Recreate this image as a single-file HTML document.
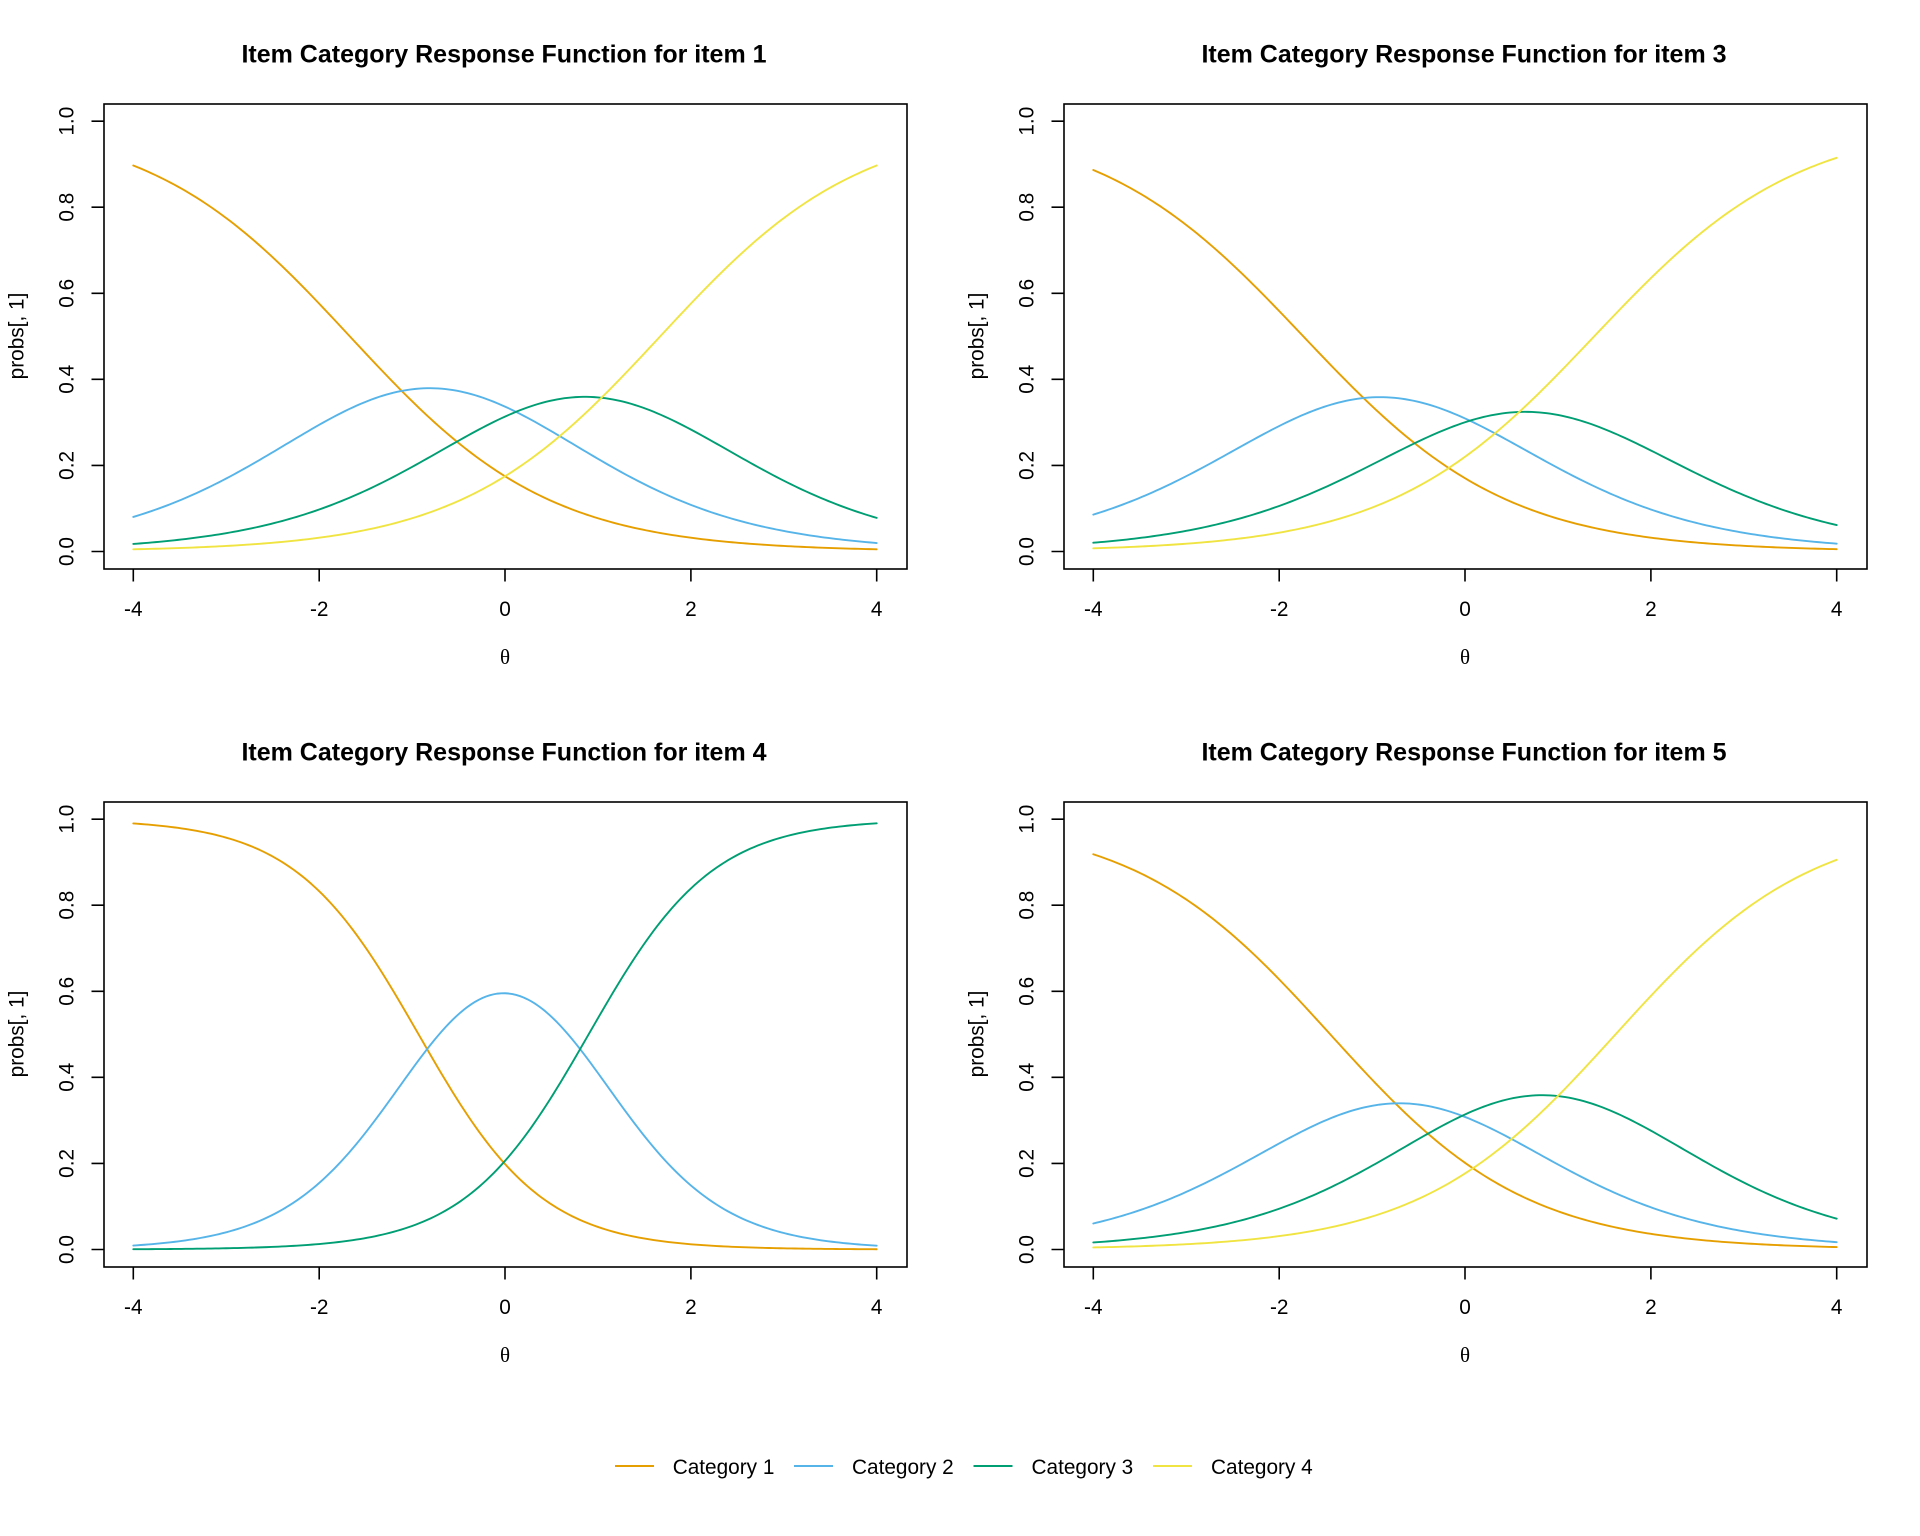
<!DOCTYPE html>
<html>
<head>
<meta charset="utf-8">
<style>
  html,body{margin:0;padding:0;background:#fff;}
  svg{display:block;}
  text{font-family:"Liberation Sans",Arial,sans-serif;fill:#000;}
  .tk{font-size:20.8px;}
  .ttl{font-size:25px;font-weight:bold;}
  .th{font-family:"Liberation Serif","DejaVu Serif",serif;font-size:21px;}
  .ax{stroke:#000;stroke-width:1.6;fill:none;}
  .cv{fill:none;stroke-width:1.9;stroke-linejoin:round;stroke-linecap:round;}
</style>
</head>
<body>
<svg id="s" width="1920" height="1536" viewBox="0 0 1920 1536" xmlns="http://www.w3.org/2000/svg">
<rect x="0" y="0" width="1920" height="1536" fill="#fff"/>

<!-- Panel 1 -->
<g transform="translate(0,0)">
  <text class="ttl" x="504" y="62.5" text-anchor="middle">Item Category Response Function for item 1</text>
  <rect class="ax" x="104" y="104" width="803" height="465"/>
  <path class="ax" d="M133.3 569V581.5M319.2 569V581.5M505 569V581.5M690.9 569V581.5M876.7 569V581.5"/>
  <path class="ax" d="M104 551.5H91.5M104 465.4H91.5M104 379.3H91.5M104 293.3H91.5M104 207.2H91.5M104 121.2H91.5"/>
  <text class="tk" x="133.3" y="616" text-anchor="middle">-4</text>
  <text class="tk" x="319.2" y="616" text-anchor="middle">-2</text>
  <text class="tk" x="505" y="616" text-anchor="middle">0</text>
  <text class="tk" x="690.9" y="616" text-anchor="middle">2</text>
  <text class="tk" x="876.7" y="616" text-anchor="middle">4</text>
  <text class="tk" transform="translate(73.5,551.5) rotate(-90)" text-anchor="middle">0.0</text>
  <text class="tk" transform="translate(73.5,465.4) rotate(-90)" text-anchor="middle">0.2</text>
  <text class="tk" transform="translate(73.5,379.3) rotate(-90)" text-anchor="middle">0.4</text>
  <text class="tk" transform="translate(73.5,293.3) rotate(-90)" text-anchor="middle">0.6</text>
  <text class="tk" transform="translate(73.5,207.2) rotate(-90)" text-anchor="middle">0.8</text>
  <text class="tk" transform="translate(73.5,121.2) rotate(-90)" text-anchor="middle">1.0</text>
  <text class="tk" transform="translate(23.5,336) rotate(-90)" text-anchor="middle">probs[, 1]</text>
  <text class="th" x="505" y="664" text-anchor="middle">θ</text>
  <g id="p0"></g>
</g>

<!-- Panel 2 -->
<g transform="translate(960,0)">
  <text class="ttl" x="504" y="62.5" text-anchor="middle">Item Category Response Function for item 3</text>
  <rect class="ax" x="104" y="104" width="803" height="465"/>
  <path class="ax" d="M133.3 569V581.5M319.2 569V581.5M505 569V581.5M690.9 569V581.5M876.7 569V581.5"/>
  <path class="ax" d="M104 551.5H91.5M104 465.4H91.5M104 379.3H91.5M104 293.3H91.5M104 207.2H91.5M104 121.2H91.5"/>
  <text class="tk" x="133.3" y="616" text-anchor="middle">-4</text>
  <text class="tk" x="319.2" y="616" text-anchor="middle">-2</text>
  <text class="tk" x="505" y="616" text-anchor="middle">0</text>
  <text class="tk" x="690.9" y="616" text-anchor="middle">2</text>
  <text class="tk" x="876.7" y="616" text-anchor="middle">4</text>
  <text class="tk" transform="translate(73.5,551.5) rotate(-90)" text-anchor="middle">0.0</text>
  <text class="tk" transform="translate(73.5,465.4) rotate(-90)" text-anchor="middle">0.2</text>
  <text class="tk" transform="translate(73.5,379.3) rotate(-90)" text-anchor="middle">0.4</text>
  <text class="tk" transform="translate(73.5,293.3) rotate(-90)" text-anchor="middle">0.6</text>
  <text class="tk" transform="translate(73.5,207.2) rotate(-90)" text-anchor="middle">0.8</text>
  <text class="tk" transform="translate(73.5,121.2) rotate(-90)" text-anchor="middle">1.0</text>
  <text class="tk" transform="translate(23.5,336) rotate(-90)" text-anchor="middle">probs[, 1]</text>
  <text class="th" x="505" y="664" text-anchor="middle">θ</text>
  <g id="p1"></g>
</g>

<!-- Panel 3 -->
<g transform="translate(0,698)">
  <text class="ttl" x="504" y="62.5" text-anchor="middle">Item Category Response Function for item 4</text>
  <rect class="ax" x="104" y="104" width="803" height="465"/>
  <path class="ax" d="M133.3 569V581.5M319.2 569V581.5M505 569V581.5M690.9 569V581.5M876.7 569V581.5"/>
  <path class="ax" d="M104 551.5H91.5M104 465.4H91.5M104 379.3H91.5M104 293.3H91.5M104 207.2H91.5M104 121.2H91.5"/>
  <text class="tk" x="133.3" y="616" text-anchor="middle">-4</text>
  <text class="tk" x="319.2" y="616" text-anchor="middle">-2</text>
  <text class="tk" x="505" y="616" text-anchor="middle">0</text>
  <text class="tk" x="690.9" y="616" text-anchor="middle">2</text>
  <text class="tk" x="876.7" y="616" text-anchor="middle">4</text>
  <text class="tk" transform="translate(73.5,551.5) rotate(-90)" text-anchor="middle">0.0</text>
  <text class="tk" transform="translate(73.5,465.4) rotate(-90)" text-anchor="middle">0.2</text>
  <text class="tk" transform="translate(73.5,379.3) rotate(-90)" text-anchor="middle">0.4</text>
  <text class="tk" transform="translate(73.5,293.3) rotate(-90)" text-anchor="middle">0.6</text>
  <text class="tk" transform="translate(73.5,207.2) rotate(-90)" text-anchor="middle">0.8</text>
  <text class="tk" transform="translate(73.5,121.2) rotate(-90)" text-anchor="middle">1.0</text>
  <text class="tk" transform="translate(23.5,336) rotate(-90)" text-anchor="middle">probs[, 1]</text>
  <text class="th" x="505" y="664" text-anchor="middle">θ</text>
  <g id="p2"></g>
</g>

<!-- Panel 4 -->
<g transform="translate(960,698)">
  <text class="ttl" x="504" y="62.5" text-anchor="middle">Item Category Response Function for item 5</text>
  <rect class="ax" x="104" y="104" width="803" height="465"/>
  <path class="ax" d="M133.3 569V581.5M319.2 569V581.5M505 569V581.5M690.9 569V581.5M876.7 569V581.5"/>
  <path class="ax" d="M104 551.5H91.5M104 465.4H91.5M104 379.3H91.5M104 293.3H91.5M104 207.2H91.5M104 121.2H91.5"/>
  <text class="tk" x="133.3" y="616" text-anchor="middle">-4</text>
  <text class="tk" x="319.2" y="616" text-anchor="middle">-2</text>
  <text class="tk" x="505" y="616" text-anchor="middle">0</text>
  <text class="tk" x="690.9" y="616" text-anchor="middle">2</text>
  <text class="tk" x="876.7" y="616" text-anchor="middle">4</text>
  <text class="tk" transform="translate(73.5,551.5) rotate(-90)" text-anchor="middle">0.0</text>
  <text class="tk" transform="translate(73.5,465.4) rotate(-90)" text-anchor="middle">0.2</text>
  <text class="tk" transform="translate(73.5,379.3) rotate(-90)" text-anchor="middle">0.4</text>
  <text class="tk" transform="translate(73.5,293.3) rotate(-90)" text-anchor="middle">0.6</text>
  <text class="tk" transform="translate(73.5,207.2) rotate(-90)" text-anchor="middle">0.8</text>
  <text class="tk" transform="translate(73.5,121.2) rotate(-90)" text-anchor="middle">1.0</text>
  <text class="tk" transform="translate(23.5,336) rotate(-90)" text-anchor="middle">probs[, 1]</text>
  <text class="th" x="505" y="664" text-anchor="middle">θ</text>
  <g id="p3"></g>
</g>

<!-- Legend -->
<g>
  <line x1="615" y1="1466" x2="654" y2="1466" stroke="#E69F00" stroke-width="1.9"/>
  <text class="tk" x="672.7" y="1474">Category 1</text>
  <line x1="794" y1="1466" x2="833" y2="1466" stroke="#56B4E9" stroke-width="1.9"/>
  <text class="tk" x="852" y="1474">Category 2</text>
  <line x1="973.5" y1="1466" x2="1012.5" y2="1466" stroke="#009E73" stroke-width="1.9"/>
  <text class="tk" x="1031.5" y="1474">Category 3</text>
  <line x1="1153" y1="1466" x2="1192" y2="1466" stroke="#F0E442" stroke-width="1.9"/>
  <text class="tk" x="1211" y="1474">Category 4</text>
</g>
</svg>
<script>
(function(){
  var NS="http://www.w3.org/2000/svg";
  var cols=["#E69F00","#56B4E9","#009E73","#F0E442"];
  var items=[
    {a:0.929,b:[-1.67,0.05,1.67]},
    {a:0.91,b:[-1.74,-0.09,1.39]},
    {a:1.5,b:[-0.93,0.90]},
    {a:0.95,b:[-1.45,0.04,1.62]}
  ];
  function X(t){return 133.3+(t+4)*92.925;}
  function Y(p){return 551.5-p*430.3;}
  items.forEach(function(it,idx){
    var g=document.getElementById("p"+idx);
    var nc=it.b.length+1;
    var ds=[];for(var k=0;k<nc;k++)ds.push("");
    var N=200;
    for(var i=0;i<=N;i++){
      var t=-4+8*i/N;
      var P=[1];
      it.b.forEach(function(b){P.push(1/(1+Math.exp(-it.a*(t-b))));});
      P.push(0);
      for(var k=0;k<nc;k++){
        var p=P[k]-P[k+1];
        ds[k]+=(i===0?"M":"L")+X(t).toFixed(2)+" "+Y(p).toFixed(2);
      }
    }
    for(var k=0;k<nc;k++){
      var path=document.createElementNS(NS,"path");
      path.setAttribute("d",ds[k]);
      path.setAttribute("class","cv");
      path.setAttribute("stroke",cols[k]);
      g.appendChild(path);
    }
  });
})();
</script>
</body>
</html>
